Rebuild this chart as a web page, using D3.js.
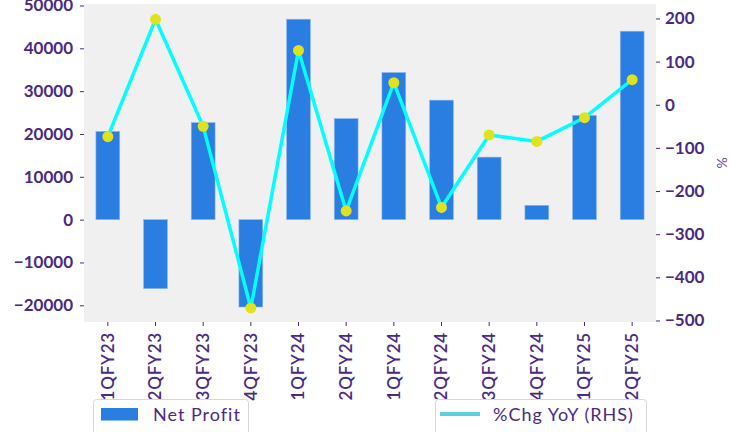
<!DOCTYPE html>
<html>
<head>
<meta charset="utf-8">
<script src="https://cdn.jsdelivr.net/npm/d3@7"></script>
<style>
  body { margin: 0; background: #fff; }
  svg text { font-family: Lato, "Open Sans", sans-serif; fill: #4a2a82; }
</style>
</head>
<body>
<svg id="chart" width="730" height="432"></svg>
<script>
const quarters = ["1QFY23", "2QFY23", "3QFY23", "4QFY23", "1QFY24", "2QFY24",
                  "1QFY24", "2QFY24", "3QFY24", "4QFY24", "1QFY25", "2QFY25"];
const netProfit = [20600, -16100, 22650, -20400, 46800, 23600,
                   34350, 27900, 14600, 3350, 24350, 44000];
const chgYoY = [-74, 198, -50, -471, 126, -246, 51, -238, -70, -85, -30, 58];
const leftTicks = [-20000, -10000, 0, 10000, 20000, 30000, 40000, 50000];
const rightTicks = [-500, -400, -300, -200, -100, 0, 100, 200];

const svg = d3.select("#chart");
const plotLeft = 84, plotRight = 656, plotTop = 4, plotBottom = 322;
const purple = "#4a2a82";

// background of the plot area
svg.append("rect")
  .attr("x", plotLeft).attr("y", plotTop)
  .attr("width", plotRight - plotLeft).attr("height", plotBottom - plotTop)
  .attr("fill", "#f0f0f0");

const x = d3.scaleBand()
  .domain(d3.range(quarters.length))
  .range([plotLeft, plotRight])
  .paddingInner(0.5)
  .paddingOuter(0.25);

const y = d3.scaleLinear().domain([-23900, 50350]).range([plotBottom, plotTop]);
const y2 = d3.scaleLinear().domain([-503.5, 233.5]).range([plotBottom, plotTop]);

// bars
svg.selectAll("rect.bar")
  .data(netProfit)
  .enter()
  .append("rect")
  .attr("class", "bar")
  .attr("x", (d, i) => x(i))
  .attr("y", d => y(Math.max(0, d)))
  .attr("width", x.bandwidth())
  .attr("height", d => Math.abs(y(d) - y(0)))
  .attr("fill", "#2a7de1")
  .attr("stroke", "#8fb8ee")
  .attr("stroke-width", 0.6);

// line + markers
const cx = i => x(i) + x.bandwidth() / 2;
svg.append("path")
  .datum(chgYoY)
  .attr("d", d3.line().x((d, i) => cx(i)).y(d => y2(d)))
  .attr("fill", "none")
  .attr("stroke", "#00ffff")
  .attr("stroke-width", 3.5)
  .attr("stroke-linejoin", "round");

svg.selectAll("circle.pt")
  .data(chgYoY)
  .enter()
  .append("circle")
  .attr("class", "pt")
  .attr("cx", (d, i) => cx(i))
  .attr("cy", d => y2(d))
  .attr("r", 5.5)
  .attr("fill", "#dfe21c");

// axes
function styleAxis(g) {
  g.select(".domain").remove();
  g.selectAll(".tick line").attr("stroke", purple);
  g.selectAll(".tick text").attr("fill", purple);
}

svg.append("g")
  .attr("transform", `translate(${plotLeft},0)`)
  .call(d3.axisLeft(y).tickValues(leftTicks).tickSize(4).tickPadding(7)
    .tickFormat(d => d < 0 ? "\u2212" + Math.abs(d) : d))
  .call(styleAxis)
  .selectAll("text")
  .style("font-size", "17px").style("font-weight", 700);

svg.append("g")
  .attr("transform", `translate(${plotRight},0)`)
  .call(d3.axisRight(y2).tickValues(rightTicks).tickSize(4).tickPadding(5)
    .tickFormat(d => d < 0 ? "\u2212" + Math.abs(d) : d))
  .call(styleAxis)
  .selectAll("text")
  .style("font-size", "17px").style("font-weight", 700);

svg.append("g")
  .attr("transform", `translate(0,${plotBottom})`)
  .call(d3.axisBottom(x).tickSize(4).tickPadding(6).tickFormat(i => quarters[i]))
  .call(styleAxis)
  .selectAll("text")
  .style("font-size", "17px").style("font-weight", 600)
  .style("letter-spacing", "0.8px")
  .attr("transform", "rotate(-90)")
  .attr("dy", "0.35em")
  .attr("x", -10)
  .attr("y", 0)
  .style("text-anchor", "end");

// right axis label
svg.append("text")
  .attr("transform", "translate(722,163) rotate(-90)")
  .attr("text-anchor", "middle")
  .attr("dy", "0.35em")
  .style("font-size", "14px")
  .style("fill", "#6a4c9c")
  .text("%");

// legends
const lg1 = svg.append("g");
lg1.append("rect").attr("x", 93.5).attr("y", 399.5).attr("width", 155).attr("height", 40)
  .attr("rx", 3).attr("fill", "#fff").attr("stroke", "#d8d8d8");
lg1.append("rect").attr("x", 101).attr("y", 408).attr("width", 37).attr("height", 12.5)
  .attr("fill", "#2a7de1");
lg1.append("text").attr("x", 153).attr("y", 421)
  .style("font-size", "18px").style("letter-spacing", "1px").text("Net Profit");

const lg2 = svg.append("g");
lg2.append("rect").attr("x", 435.5).attr("y", 399.5).attr("width", 211).attr("height", 40)
  .attr("rx", 3).attr("fill", "#fff").attr("stroke", "#d8d8d8");
lg2.append("line").attr("x1", 440).attr("x2", 480).attr("y1", 414).attr("y2", 414)
  .attr("stroke", "#5ecfdc").attr("stroke-width", 4);
lg2.append("text").attr("x", 493).attr("y", 421)
  .style("font-size", "18px").style("letter-spacing", "1px").text("%Chg YoY (RHS)");
</script>
</body>
</html>
